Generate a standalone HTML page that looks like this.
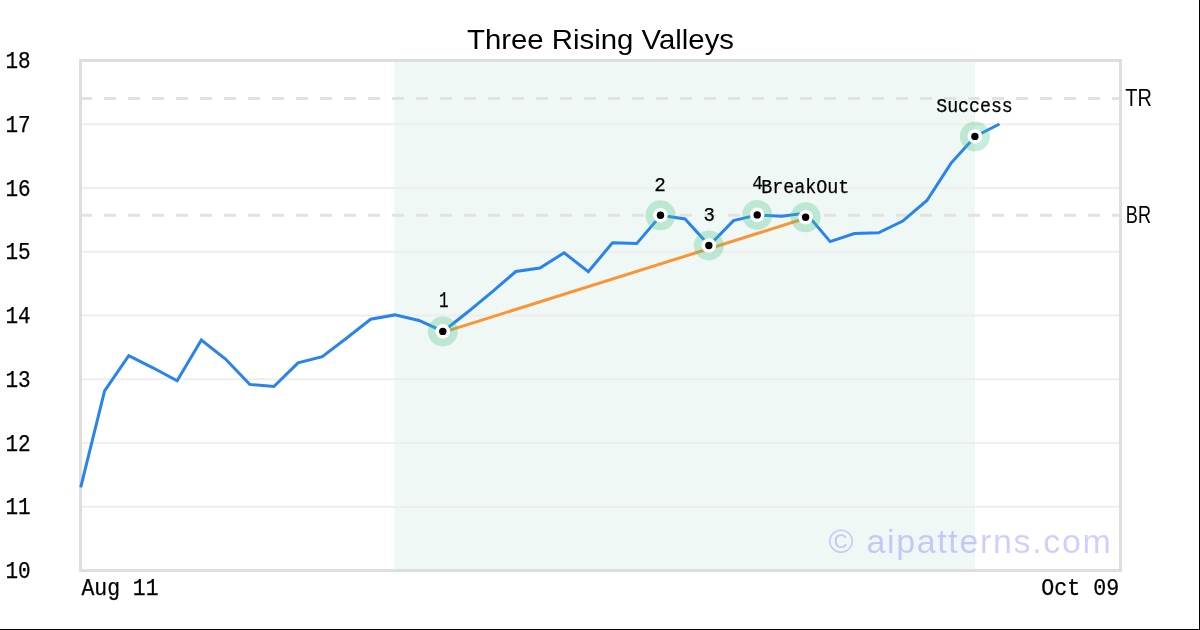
<!DOCTYPE html>
<html><head><meta charset="utf-8"><style>
html,body{margin:0;padding:0;background:#fff;}
body{width:1200px;height:630px;overflow:hidden;position:relative;}
svg{position:absolute;left:0;top:0;}
</style></head><body>
<svg style="will-change:transform" width="1200" height="630" viewBox="0 0 1200 630">
<rect x="0" y="0" width="1200" height="630" fill="#fff"/>
<rect x="394.42" y="60" width="580.47" height="510" fill="#eff8f4"/>
<g stroke="#eeeeee" stroke-width="2"><line x1="80" y1="124.25" x2="1120" y2="124.25"/><line x1="80" y1="188.00" x2="1120" y2="188.00"/><line x1="80" y1="251.75" x2="1120" y2="251.75"/><line x1="80" y1="315.50" x2="1120" y2="315.50"/><line x1="80" y1="379.25" x2="1120" y2="379.25"/><line x1="80" y1="443.00" x2="1120" y2="443.00"/><line x1="80" y1="506.75" x2="1120" y2="506.75"/></g>
<g stroke="#e2e2e2" stroke-width="3" stroke-dasharray="12 12">
<line x1="80" y1="98.5" x2="1120" y2="98.5"/>
<line x1="80" y1="215.3" x2="1120" y2="215.3"/>
</g>
<rect x="80.5" y="60.5" width="1040" height="510" fill="none" stroke="#dedede" stroke-width="3"/>
<polyline points="80.70,487.4 104.59,390.9 128.77,355.6 152.96,367.8 177.14,380.8 201.33,340 225.52,359 249.70,384.4 273.89,386.5 298.07,362.9 322.26,356.6 346.45,338.3 370.63,319.2 394.82,314.9 419.00,320.5 443.19,331.4 467.38,312.3 491.56,292.3 515.75,271.5 539.93,268.1 564.12,252.8 588.31,271.7 612.49,242.8 636.68,243.6 660.87,215.3 685.05,218.9 709.24,245.5 733.42,220.6 757.61,214.9 781.80,216.2 805.98,213 830.17,241.6 854.35,233.6 878.54,232.8 902.73,221.1 926.91,200.5 951.10,163.1 975.28,136.4 999.47,124" fill="none" stroke="#2884ec" stroke-width="3" stroke-linejoin="miter"/>
<line x1="442.79" y1="332.4" x2="805.58" y2="218.3" stroke="#fa9435" stroke-width="3"/>
<circle cx="442.79" cy="331.4" r="15" fill="rgb(70,197,137)" fill-opacity="0.3"/><circle cx="442.79" cy="331.4" r="7.3" fill="#fff"/><circle cx="442.79" cy="331.4" r="3.7" fill="#000"/><circle cx="660.47" cy="215.3" r="15" fill="rgb(70,197,137)" fill-opacity="0.3"/><circle cx="660.47" cy="215.3" r="7.3" fill="#fff"/><circle cx="660.47" cy="215.3" r="3.7" fill="#000"/><circle cx="708.84" cy="245.5" r="15" fill="rgb(70,197,137)" fill-opacity="0.3"/><circle cx="708.84" cy="245.5" r="7.3" fill="#fff"/><circle cx="708.84" cy="245.5" r="3.7" fill="#000"/><circle cx="757.21" cy="214.9" r="15" fill="rgb(70,197,137)" fill-opacity="0.3"/><circle cx="757.21" cy="214.9" r="7.3" fill="#fff"/><circle cx="757.21" cy="214.9" r="3.7" fill="#000"/><circle cx="805.58" cy="217.3" r="15" fill="rgb(70,197,137)" fill-opacity="0.3"/><circle cx="805.58" cy="217.3" r="7.3" fill="#fff"/><circle cx="805.58" cy="217.3" r="3.7" fill="#000"/><circle cx="974.88" cy="136.4" r="15" fill="rgb(70,197,137)" fill-opacity="0.3"/><circle cx="974.88" cy="136.4" r="7.3" fill="#fff"/><circle cx="974.88" cy="136.4" r="3.7" fill="#000"/>
<g fill="#000" stroke="#000" stroke-width="0.25"><text x="439.0" y="307" font-family="'Liberation Mono', monospace" font-size="21.2" text-anchor="start" textLength="9.6" lengthAdjust="spacingAndGlyphs">1</text><text x="654.3" y="191" font-family="'Liberation Mono', monospace" font-size="21" text-anchor="start" textLength="11.6" lengthAdjust="spacingAndGlyphs">2</text><text x="703.4" y="221" font-family="'Liberation Mono', monospace" font-size="21" text-anchor="start" textLength="11.4" lengthAdjust="spacingAndGlyphs">3</text><text x="752.2" y="189.0" font-family="'Liberation Mono', monospace" font-size="21" text-anchor="start" textLength="10.6" lengthAdjust="spacingAndGlyphs">4</text><text x="761.2" y="192.8" font-family="'Liberation Mono', monospace" font-size="19.5" text-anchor="start" textLength="88.1" lengthAdjust="spacingAndGlyphs">BreakOut</text><text x="936.2" y="112" font-family="'Liberation Mono', monospace" font-size="20" text-anchor="start" textLength="76.6" lengthAdjust="spacingAndGlyphs">Success</text>
<text x="467.0" y="49.25" font-family="'Liberation Sans', sans-serif" font-size="28.5" text-anchor="start" textLength="267" lengthAdjust="spacingAndGlyphs" stroke-width="0">Three Rising Valleys</text>
<text x="5.4" y="68.00" font-family="'Liberation Mono', monospace" font-size="23" text-anchor="start" textLength="25.2" lengthAdjust="spacingAndGlyphs">18</text><text x="5.4" y="131.75" font-family="'Liberation Mono', monospace" font-size="23" text-anchor="start" textLength="25.2" lengthAdjust="spacingAndGlyphs">17</text><text x="5.4" y="195.50" font-family="'Liberation Mono', monospace" font-size="23" text-anchor="start" textLength="25.2" lengthAdjust="spacingAndGlyphs">16</text><text x="5.4" y="259.25" font-family="'Liberation Mono', monospace" font-size="23" text-anchor="start" textLength="25.2" lengthAdjust="spacingAndGlyphs">15</text><text x="5.4" y="323.00" font-family="'Liberation Mono', monospace" font-size="23" text-anchor="start" textLength="25.2" lengthAdjust="spacingAndGlyphs">14</text><text x="5.4" y="386.75" font-family="'Liberation Mono', monospace" font-size="23" text-anchor="start" textLength="25.2" lengthAdjust="spacingAndGlyphs">13</text><text x="5.4" y="450.50" font-family="'Liberation Mono', monospace" font-size="23" text-anchor="start" textLength="25.2" lengthAdjust="spacingAndGlyphs">12</text><text x="5.4" y="514.25" font-family="'Liberation Mono', monospace" font-size="23" text-anchor="start" textLength="25.2" lengthAdjust="spacingAndGlyphs">11</text><text x="5.4" y="578.00" font-family="'Liberation Mono', monospace" font-size="23" text-anchor="start" textLength="25.2" lengthAdjust="spacingAndGlyphs">10</text>
<text x="81.5" y="595" font-family="'Liberation Mono', monospace" font-size="23" text-anchor="start" textLength="77" lengthAdjust="spacingAndGlyphs">Aug 11</text>
<text x="1041.2" y="595" font-family="'Liberation Mono', monospace" font-size="23" text-anchor="start" textLength="78" lengthAdjust="spacingAndGlyphs">Oct 09</text>
<text x="1125.2" y="106" font-family="'Liberation Sans', sans-serif" font-size="23.4" text-anchor="start" textLength="26.6" lengthAdjust="spacingAndGlyphs" stroke-width="0">TR</text>
<text x="1125.8" y="222.7" font-family="'Liberation Sans', sans-serif" font-size="23.4" text-anchor="start" textLength="25.2" lengthAdjust="spacingAndGlyphs" stroke-width="0">BR</text>
</g>
<text x="828.6" y="552.6" font-family="'Liberation Sans', sans-serif" font-size="34" text-anchor="start" textLength="282.2" lengthAdjust="spacing" fill="#0000ff" fill-opacity="0.19">© aipatterns.com</text>
<rect x="1199" y="0" width="1" height="630" fill="#000"/>
<rect x="0" y="629" width="1200" height="1" fill="#000"/>
</svg>
</body></html>
